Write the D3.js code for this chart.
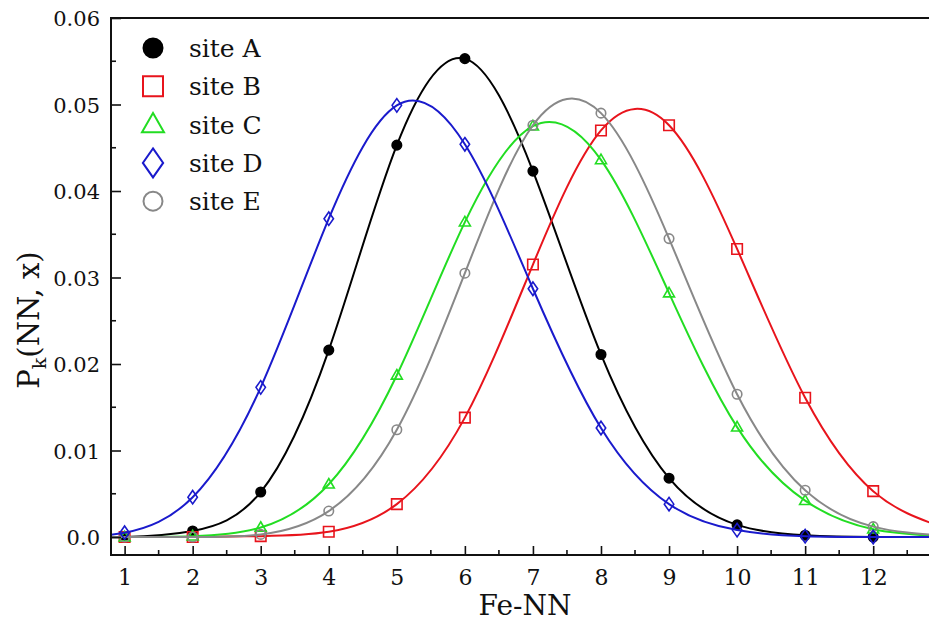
<!DOCTYPE html>
<html>
<head>
<meta charset="utf-8">
<script src="https://cdn.jsdelivr.net/npm/d3@7"></script>
<style>
  html, body { margin: 0; padding: 0; background: #fff; }
  svg { display: block; }
  text { font-family: "DejaVu Serif", "Liberation Serif", serif; fill: #111; }
</style>
</head>
<body>
<svg id="chart" width="929" height="621"></svg>
<script>
// Number of Fe nearest neighbours (curves run a little past the visible range on both ends)
const nn = [0, 1, 2, 3, 4, 5, 6, 7, 8, 9, 10, 11, 12, 13];

// Probability P_k(NN, x) for each site
const siteA = [0, 0.0000, 0.0007, 0.0052, 0.0216, 0.0453, 0.0553, 0.0423, 0.0211, 0.0068, 0.0014, 0.0002, 0.0000, 0];
const siteB = [0, 0.0000, 0.0000, 0.0001, 0.0006, 0.0038, 0.0138, 0.0315, 0.0470, 0.0476, 0.0333, 0.0161, 0.0053, 0.0012];
const siteC = [0, 0.0000, 0.0001, 0.0011, 0.0061, 0.0187, 0.0364, 0.0475, 0.0436, 0.0282, 0.0127, 0.0042, 0.0009, 0.0001];
const siteD = [0.0001, 0.0005, 0.0046, 0.0173, 0.0368, 0.0499, 0.0454, 0.0287, 0.0126, 0.0038, 0.0008, 0.0001, 0.0000, 0];
const siteE = [0, 0.0000, 0.0000, 0.0003, 0.0030, 0.0124, 0.0305, 0.0476, 0.0490, 0.0345, 0.0165, 0.0054, 0.0012, 0.0002];

const seriesNames = ["site A", "site B", "site C", "site E", "site D"];
const seriesValues = [siteA, siteB, siteC, siteE, siteD];
const legendOrder = ["site A", "site B", "site C", "site D", "site E"];

const xTicks = [1, 2, 3, 4, 5, 6, 7, 8, 9, 10, 11, 12];
const yTicks = [0, 0.01, 0.02, 0.03, 0.04, 0.05, 0.06];
const yTickLabels = ["0.0", "0.01", "0.02", "0.03", "0.04", "0.05", "0.06"];

const style = {
  "site A": { color: "#000000", shape: "circle", fill: true },
  "site B": { color: "#e8141c", shape: "square", fill: false },
  "site C": { color: "#22dd22", shape: "triangle", fill: false },
  "site D": { color: "#1a1acc", shape: "diamond", fill: false },
  "site E": { color: "#888888", shape: "circle", fill: false }
};

const svg = d3.select("#chart");
const plotLeft = 111, plotTop = 18, plotBottom = 555, plotRight = 929;

const x = d3.scaleLinear().domain([0.8, 12.82]).range([plotLeft, plotRight]);
const y = d3.scaleLinear().domain([-0.00208, 0.06]).range([plotBottom, plotTop]);

// clip region for curves and markers
svg.append("clipPath").attr("id", "plotclip")
  .append("rect").attr("x", plotLeft).attr("y", plotTop)
  .attr("width", plotRight - plotLeft).attr("height", plotBottom - plotTop);

// marker path builder
function markerPath(shape, s) {
  const p = d3.path();
  if (shape === "circle") {
    p.arc(0, 0, s / 2, 0, 2 * Math.PI);
  } else if (shape === "square") {
    p.rect(-s / 2, -s / 2, s, s);
  } else if (shape === "triangle") {
    const h = s * 0.87;
    p.moveTo(0, -h * 0.6); p.lineTo(s / 2, h * 0.4); p.lineTo(-s / 2, h * 0.4); p.closePath();
  } else if (shape === "diamond") {
    const w = s * 0.7, h = s;
    p.moveTo(0, -h / 2); p.lineTo(w / 2, 0); p.lineTo(0, h / 2); p.lineTo(-w / 2, 0); p.closePath();
  }
  return p.toString();
}
const dataSize = { circle: 9.5, square: 10.5, triangle: 11, diamond: 13.5 };

const plot = svg.append("g").attr("clip-path", "url(#plotclip)");
// smooth natural spline through the points
const line = d3.line().curve(d3.curveNatural).x((d) => x(d[0])).y((d) => y(d[1]));

seriesNames.forEach((name, i) => {
  const st = style[name];
  const pts = nn.map((n, j) => [n, seriesValues[i][j]]);
  plot.append("path").datum(pts)
    .attr("d", line)
    .attr("fill", "none")
    .attr("stroke", st.color)
    .attr("stroke-width", 2);
  plot.selectAll(null)
    .data(pts.filter((d) => d[0] >= 1 && d[0] <= 12))
    .enter().append("path")
    .attr("transform", (d) => `translate(${x(d[0])},${y(d[1])})`)
    .attr("d", markerPath(st.shape, dataSize[st.shape]))
    .attr("fill", st.fill ? st.color : "none")
    .attr("stroke", st.color)
    .attr("stroke-width", 1.6);
});

// frame: left axis, bottom axis, top border
const axisColor = "#111";
svg.append("line").attr("x1", plotLeft).attr("x2", plotRight).attr("y1", plotTop).attr("y2", plotTop)
  .attr("stroke", axisColor).attr("stroke-width", 2);

// y axis with inward ticks
const yAxis = d3.axisRight(y).tickValues(yTicks).tickSize(10).tickFormat((d, i) => yTickLabels[i]);
const gy = svg.append("g").attr("transform", `translate(${plotLeft},0)`).call(yAxis);
gy.select(".domain").remove();
gy.selectAll(".tick line").attr("stroke", axisColor).attr("stroke-width", 1.6);
gy.selectAll(".tick text")
  .attr("x", -11).attr("text-anchor", "end").attr("dy", "0.36em")
  .style("font-size", "21px");
const yMinor = d3.range(0.005, 0.06, 0.01);
svg.append("g").selectAll("line").data(yMinor).enter().append("line")
  .attr("x1", plotLeft).attr("x2", plotLeft + 5).attr("y1", (d) => y(d)).attr("y2", (d) => y(d))
  .attr("stroke", axisColor).attr("stroke-width", 1.6);
svg.append("line").attr("x1", plotLeft).attr("x2", plotLeft).attr("y1", plotTop - 1).attr("y2", plotBottom + 1)
  .attr("stroke", axisColor).attr("stroke-width", 2);

// x axis with inward ticks
const xAxis = d3.axisTop(x).tickValues(xTicks).tickSize(9).tickFormat(d3.format("d"));
const gx = svg.append("g").attr("transform", `translate(0,${plotBottom})`).call(xAxis);
gx.select(".domain").remove();
gx.selectAll(".tick line").attr("stroke", axisColor).attr("stroke-width", 1.6);
gx.selectAll(".tick text")
  .attr("y", 22).attr("dy", "0.36em").attr("text-anchor", "middle")
  .style("font-size", "22px");
const xMinor = d3.range(1.5, 12.8, 1);
svg.append("g").selectAll("line").data(xMinor).enter().append("line")
  .attr("x1", (d) => x(d)).attr("x2", (d) => x(d)).attr("y1", plotBottom).attr("y2", plotBottom - 5)
  .attr("stroke", axisColor).attr("stroke-width", 1.6);
svg.append("line").attr("x1", plotLeft - 1).attr("x2", plotRight).attr("y1", plotBottom).attr("y2", plotBottom)
  .attr("stroke", axisColor).attr("stroke-width", 2);

// axis titles
svg.append("text").attr("x", 525).attr("y", 615).attr("text-anchor", "middle")
  .style("font-size", "28px").text("Fe-NN");
const yt = svg.append("text")
  .attr("transform", `translate(39,${(245 + 395) / 2}) rotate(-90)`)
  .attr("text-anchor", "middle")
  .style("font-size", "29px");
yt.append("tspan").text("P");
yt.append("tspan").attr("dy", 7).style("font-size", "19px").text("k");
yt.append("tspan").attr("dy", -7).text("(NN, x)");

// legend
const legendSize = { circle: 19, square: 20, triangle: 22, diamond: 29 };
const lg = svg.append("g");
legendOrder.forEach((name, i) => {
  const st = style[name];
  const cy = 48 + i * 38.3;
  lg.append("path")
    .attr("transform", `translate(153,${cy})`)
    .attr("d", markerPath(st.shape, legendSize[st.shape]))
    .attr("fill", st.fill ? st.color : "none")
    .attr("stroke", st.color)
    .attr("stroke-width", 2);
  lg.append("text").attr("x", 189).attr("y", cy).attr("dy", "0.36em")
    .style("font-size", "25px").text(name);
});
</script>
</body>
</html>
